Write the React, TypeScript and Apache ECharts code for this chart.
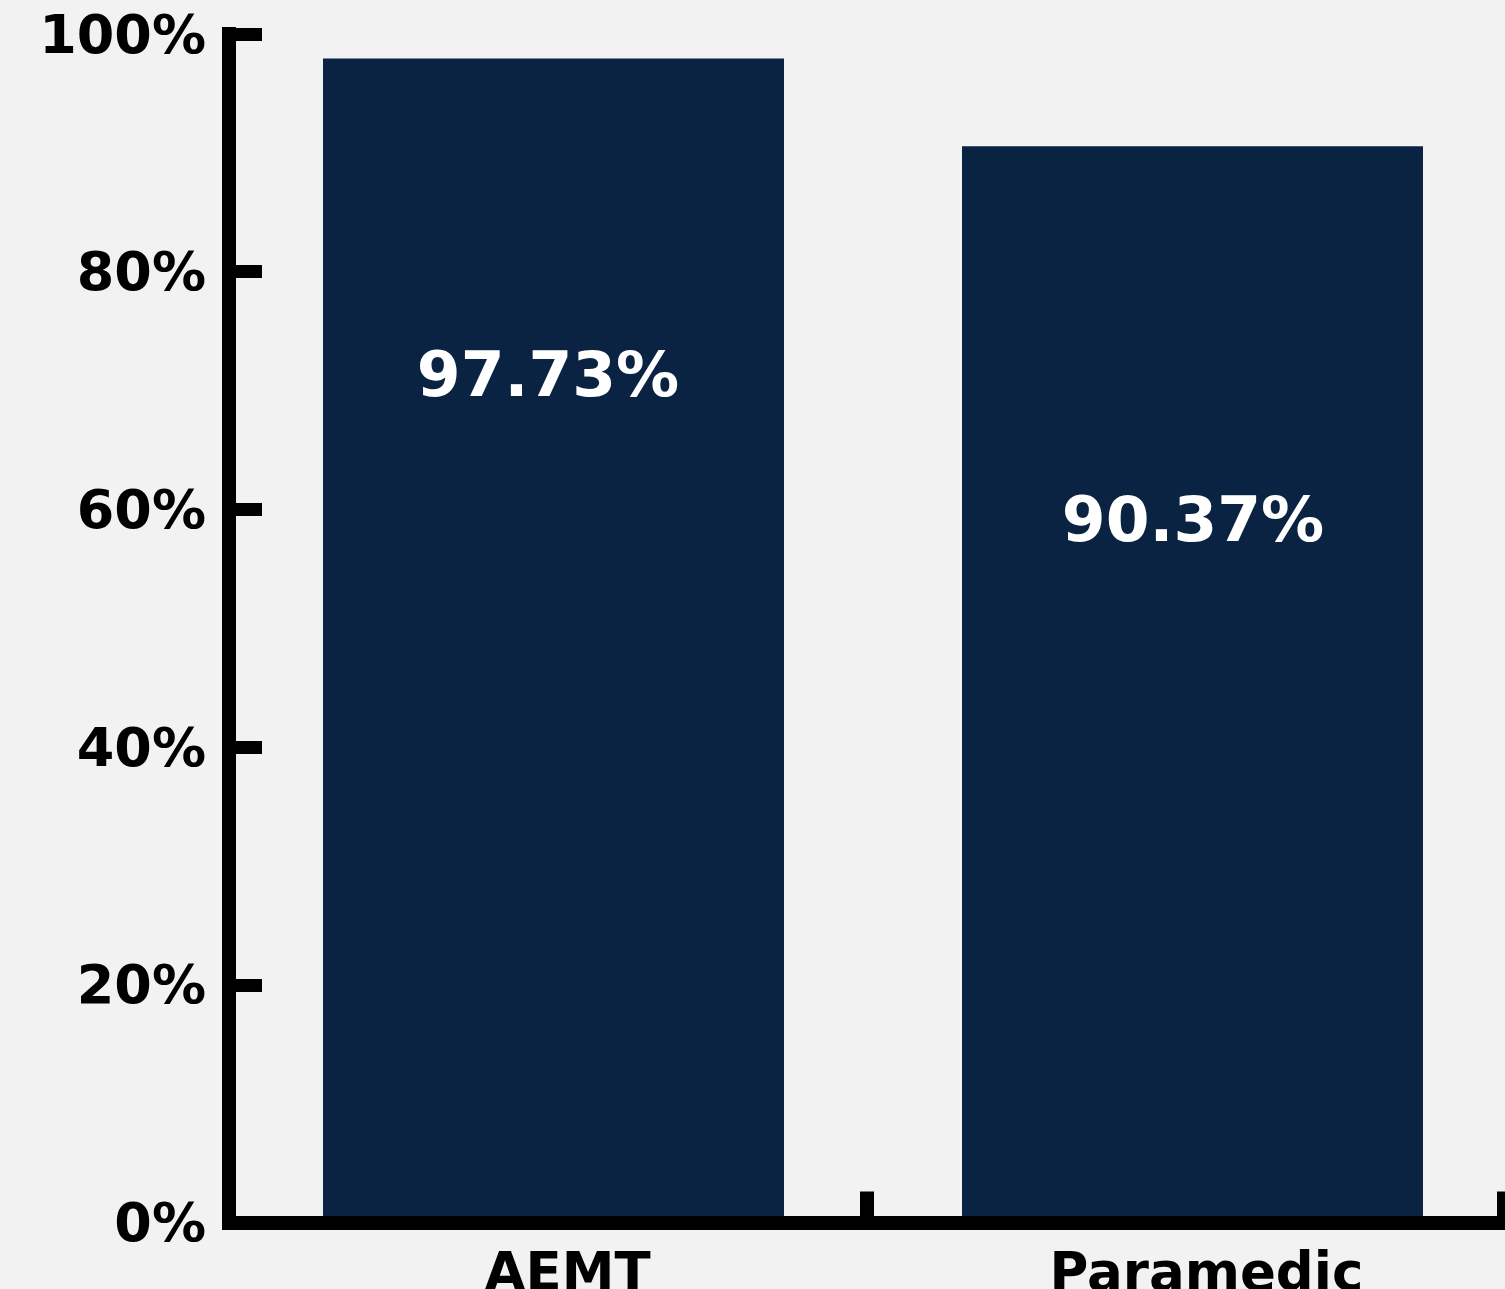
import React, { useEffect, useRef } from "react";
import * as echarts from "echarts";

const categories = ["AEMT", "Paramedic"];
const passRates = [97.73, 90.37];
const yTicks = [0, 20, 40, 60, 80, 100];

const labelPositions: [number, number][] = [
  [225, 316],
  [231, 373],
];

const FONT = "DejaVu Sans";

export default function App() {
  const ref = useRef<HTMLDivElement>(null);
  useEffect(() => {
    if (!ref.current) return;
    const chart = echarts.init(ref.current, undefined, { renderer: "svg" });
    const yMin = yTicks[0];
    const yMax = yTicks[yTicks.length - 1];
    const yStep = yTicks[1] - yTicks[0];
    chart.setOption({
      animation: false,
      backgroundColor: "#f2f2f2",
      grid: [
        { left: 229, width: 1275, top: 34, height: 1188.5, containLabel: false, outerBoundsMode: "none" },
        { left: 234, width: 1278, top: 31.5, height: 1191, containLabel: false, outerBoundsMode: "none" },
      ],
      xAxis: [
        {
          type: "category",
          gridIndex: 0,
          data: categories,
          axisLine: { lineStyle: { color: "#000", width: 14, cap: "square" } },
          axisTick: { show: true, inside: true, length: 31, lineStyle: { color: "#000", width: 14 } },
          axisLabel: { show: false },
          z: 10,
        },
        {
          type: "category",
          gridIndex: 1,
          data: categories,
          axisLine: { show: false },
          axisTick: { show: false },
          axisLabel: {
            show: true,
            color: "#000",
            fontFamily: FONT,
            fontWeight: "bold",
            fontSize: 53,
            margin: 22,
            padding: [0, 0, 0, 28],
          },
        },
      ],
      yAxis: [
        {
          type: "value",
          gridIndex: 0,
          min: yMin,
          max: yMax,
          interval: yStep,
          axisLine: { show: true, lineStyle: { color: "#000", width: 14, cap: "square" } },
          axisTick: { show: true, inside: true, length: 33, lineStyle: { color: "#000", width: 13 } },
          splitLine: { show: false },
          axisLabel: {
            color: "#000",
            fontFamily: FONT,
            fontWeight: "bold",
            fontSize: 54,
            margin: 23,
            formatter: "{value}%",
          },
          z: 10,
        },
        {
          type: "value",
          gridIndex: 1,
          min: yMin,
          max: yMax,
          interval: yStep,
          show: false,
        },
      ],
      series: [
        {
          type: "bar",
          xAxisIndex: 1,
          yAxisIndex: 1,
          barWidth: 461,
          itemStyle: { color: "#0a2342" },
          data: passRates.map((v, i) => ({
            value: v,
            label: {
              show: true,
              position: labelPositions[i],
              align: "center",
              verticalAlign: "middle",
              formatter: (p: any) => `${p.value.toFixed(2)}%`,
              color: "#fff",
              fontFamily: FONT,
              fontWeight: "bold",
              fontSize: 63,
            },
          })),
          z: 2,
        },
      ],
    });
    return () => chart.dispose();
  }, []);
  return (
    <div
      ref={ref}
      style={{ position: "fixed", left: 0, top: 0, width: 1530, height: 1289 }}
    />
  );
}
